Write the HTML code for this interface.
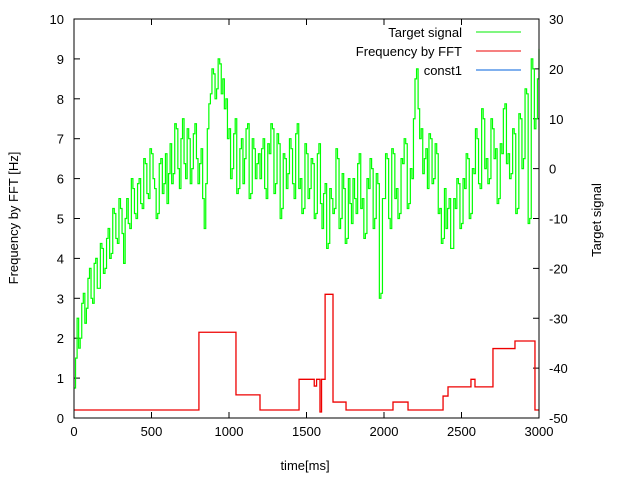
<!DOCTYPE html>
<html><head><meta charset="utf-8"><style>
body{margin:0;background:#fff}
text{font-family:"Liberation Sans",sans-serif;font-size:13px;fill:#000}
</style></head><body>
<svg id="c" width="640" height="480" xmlns="http://www.w3.org/2000/svg"></svg>
<script>
const fftTimes=[0,806,1045,1200,1452,1550,1565,1587,1597,1620,1671,1755,2058,2155,2381,2413,2561,2587,2703,2845,2974,3000];
const fftValues=[0.2,2.15,0.58,0.2,0.97,0.8,0.97,0.15,0.97,3.1,0.4,0.2,0.4,0.2,0.55,0.78,0.97,0.78,1.74,1.93,0.2,0.2];
const signalValues=[-44,-38,-30,-36,-34,-27,-25,-31,-28,-22,-20,-26,-27,-19,-18,-24,-24,-15,-16,-21,
-20,-14,-12,-18,-17,-8,-9,-14,-15,-6,-8,-13,-19,-10,-6,-11,-12,-2,-4,-9,
-10,-3,-2,-7,-8,2,1,-5,-6,4,3,-2,-4,-10,-9,1,2,-5,-3,3,
-7,-1,5,-3,-1,9,8,0,-4,6,10,1,-2,8,6,-3,0,7,9,2,
-3,1,4,-6,-12,-3,8,13,15,20,19,14,16,22,21,15,18,12,14,6,
8,-2,0,7,10,-5,-4,4,6,-3,2,8,9,-6,-5,6,4,-2,1,3,
-2,4,6,-4,-6,5,3,9,8,-5,-3,7,5,-10,-8,3,2,-4,-1,6,
4,-3,-6,7,9,-4,-2,-9,-8,5,3,-6,-4,2,1,-10,-9,3,5,-7,
-12,-5,-3,-16,-15,-4,-6,-9,-8,4,2,-12,-10,-1,-4,-15,-14,-2,-7,-11,
-2,-6,-9,1,3,-8,-6,-14,-13,-2,-4,2,0,-12,-10,-1,-3,-26,-25,-6,
-6,3,2,-10,-12,4,3,-6,-4,-10,-9,2,1,6,5,-8,-7,0,-2,10,
18,20,12,6,8,-1,2,4,-4,7,6,-3,-2,5,3,-9,-8,-15,-14,-4,
-12,-8,-6,-16,-16,-6,-8,-2,-3,-12,-11,-2,-4,3,2,-10,-9,0,-1,8,
6,-3,-4,12,10,0,2,-3,-2,10,8,2,4,-7,-6,5,3,12,13,1,
3,-2,-1,8,7,-9,-8,11,10,0,2,16,15,-11,-10,22,20,8,10,18,24];
const xTicks=[0,500,1000,1500,2000,2500,3000];
const yTicks=[0,1,2,3,4,5,6,7,8,9,10];
const y2Ticks=[-50,-40,-30,-20,-10,0,10,20,30];
const L=74,R=539,T=19,B=418;
const xs=v=>L+(v/3000)*(R-L);
const ys=v=>B-(v/10)*(B-T);
const y2s=v=>B-((v+50)/80)*(B-T);
const svg=document.getElementById('c');
const NS='http://www.w3.org/2000/svg';
function mk(tag,attrs,txt){const e=document.createElementNS(NS,tag);for(const k in attrs)e.setAttribute(k,attrs[k]);if(txt!==undefined)e.textContent=txt;svg.appendChild(e);return e;}
xTicks.forEach(t=>{const x=xs(t);
const g=mk('path',{d:`M${x},${B}v-6M${x},${T}v6`,stroke:'#000','stroke-width':1});

const l=mk('text',{x:x,y:B+18,'text-anchor':'middle'},t);
});
yTicks.forEach(t=>{const y=ys(t);
const g=mk('path',{d:`M${L},${y}h6`,stroke:'#000'});

const l=mk('text',{x:L-10,y:y+5,'text-anchor':'end'},t);
});
y2Ticks.forEach(t=>{const y=y2s(t);
const g=mk('path',{d:`M${R},${y}h-6`,stroke:'#000'});

const l=mk('text',{x:R+10,y:y+5,'text-anchor':'start'},t);
});
const step=3000/(signalValues.length-1);
let d='';signalValues.forEach((v,i)=>{const x=xs(i*step),y=y2s(v);d+=i?`H${x}V${y}`:`M${x},${y}`;});
const sp=mk('path',{d:d,fill:'none',stroke:'#00ff00','stroke-width':1.2});

let d2='';fftTimes.forEach((t,i)=>{const x=xs(t),y=ys(fftValues[i]);d2+=i?`H${x}V${y}`:`M${x},${y}`;});
const fp=mk('path',{d:d2,fill:'none',stroke:'#ee0000','stroke-width':1.3});

const fr=mk('rect',{x:L,y:T,width:R-L,height:B-T,fill:'none',stroke:'#000'});

const leg=[['Target signal','#00ee00'],['Frequency by FFT','#ee0000'],['const1','#0060dd']];
leg.forEach((e,i)=>{const y=37+i*19;
const t=mk('text',{x:462,y:y,'text-anchor':'end'},e[0]);

const s=mk('line',{x1:476,x2:521,y1:y-5,y2:y-5,stroke:e[1]});
});
const xt=mk('text',{x:305,y:470,'text-anchor':'middle'},'time[ms]');

const yt=mk('text',{x:0,y:0,'text-anchor':'middle',transform:'translate(18,218) rotate(-90)'},'Frequency by FFT [Hz]');

const y2t=mk('text',{x:0,y:0,'text-anchor':'middle',transform:'translate(601,220) rotate(-90)'},'Target signal');

</script>
</body></html>
